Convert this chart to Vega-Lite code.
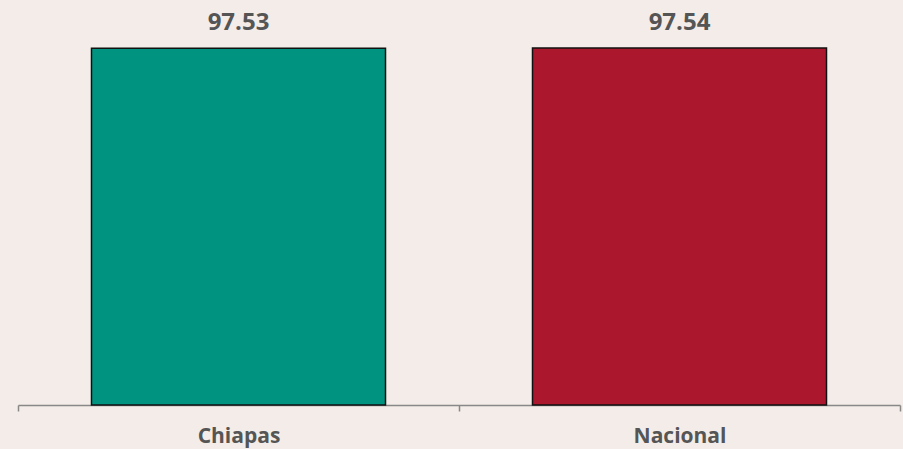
{
  "$schema": "https://vega.github.io/schema/vega-lite/v6.json",
  "width": 882,
  "height": 397,
  "autosize": {"type": "none"},
  "padding": {"left": 18, "top": 8, "right": 3, "bottom": 44},
  "background": "#f4ece8",
  "config": {"view": {"stroke": null}},
  "data": {"values": [
    {"region": "Chiapas", "value": 97.53},
    {"region": "Nacional", "value": 97.54}
  ]},
  "encoding": {
    "x": {
      "field": "region", "type": "nominal", "sort": null,
      "scale": {"paddingInner": 0, "paddingOuter": 0},
      "axis": {
        "title": null, "labelAngle": 0, "tickBand": "extent",
        "domainColor": "#888888", "domainWidth": 1.5,
        "tickColor": "#888888", "tickWidth": 1.5, "tickSize": 6,
        "labelFont": "Open Sans", "labelFontWeight": "bold", "labelFontSize": 21,
        "labelColor": "#555555", "labelPadding": 14
      }
    },
    "y": {
      "field": "value", "type": "quantitative",
      "scale": {"domain": [0, 108.5]},
      "axis": null
    }
  },
  "layer": [
    {
      "mark": {"type": "bar", "width": {"band": 0.6667}, "stroke": "#111111", "strokeWidth": 1.5},
      "encoding": {
        "color": {
          "field": "region", "type": "nominal",
          "scale": {"domain": ["Chiapas", "Nacional"], "range": ["#009480", "#ab182d"]},
          "legend": null
        }
      }
    },
    {
      "mark": {"type": "text", "dy": -18, "baseline": "alphabetic", "font": "Open Sans", "fontWeight": "bold", "fontSize": 24, "color": "#555555"},
      "encoding": {"text": {"field": "value", "type": "quantitative", "format": ".2f"}}
    }
  ]
}
